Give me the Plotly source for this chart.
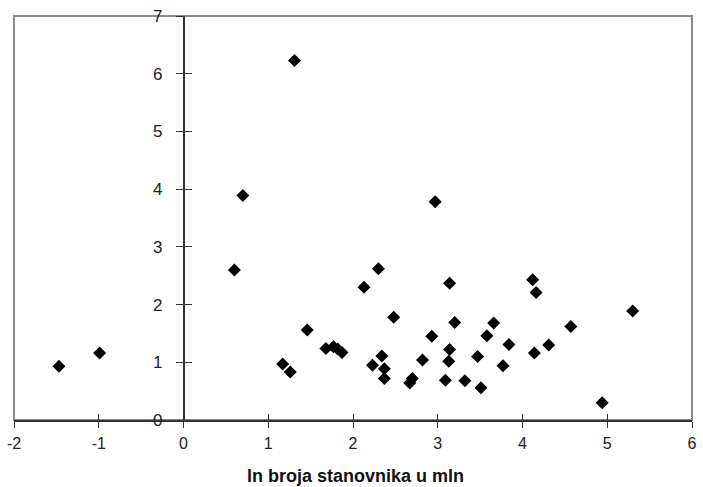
import plotly.graph_objects as go

x_vals = [-1.47, -0.99, 0.60, 0.70, 1.31, 1.17, 1.26, 1.46, 1.68, 1.77, 1.82, 1.87,
          2.13, 2.30, 2.48, 2.23, 2.34, 2.37, 2.37, 2.97, 3.14, 4.12, 4.16, 3.20,
          3.66, 2.93, 3.58, 3.84, 3.14, 3.13, 2.82, 3.47, 4.14, 3.77, 2.70, 2.67,
          3.09, 3.32, 3.51, 5.30, 4.57, 4.31, 4.94]
y_vals = [0.93, 1.16, 2.60, 3.89, 6.23, 0.97, 0.83, 1.56, 1.24, 1.27, 1.23, 1.17,
          2.30, 2.62, 1.78, 0.95, 1.11, 0.89, 0.72, 3.78, 2.37, 2.43, 2.21, 1.69,
          1.68, 1.45, 1.46, 1.31, 1.22, 1.02, 1.04, 1.10, 1.16, 0.94, 0.72, 0.64,
          0.69, 0.68, 0.56, 1.89, 1.62, 1.30, 0.30]

x_ticks = [-2, -1, 0, 1, 2, 3, 4, 5, 6]
x_tick_text = ["-2", "-1", "0", "1", "2", "3", "4", "5", "6"]
y_ticks = [0, 1, 2, 3, 4, 5, 6, 7]
x_title = "ln broja stanovnika u mln"

FONT = "Liberation Sans, Arial, sans-serif"
AX = "#333333"

fig = go.Figure()
fig.add_trace(go.Scatter(
    x=x_vals, y=y_vals, mode="markers",
    marker=dict(symbol="diamond", size=10, color="black", line=dict(width=0)),
    showlegend=False, hoverinfo="x+y"))
# invisible trace to host the overlay axes (inside tick halves)
fig.add_trace(go.Scatter(x=[x_ticks[0]], y=[y_ticks[0]], xaxis="x2", yaxis="y2",
                         mode="markers", marker=dict(opacity=0), showlegend=False,
                         hoverinfo="skip"))

common_x = dict(range=[-2, 6], tickvals=x_ticks, showgrid=False, zeroline=False,
                ticklen=6, tickwidth=1, tickcolor=AX)
common_y = dict(range=[0, 7], tickvals=y_ticks, showgrid=False, zeroline=False,
                ticklen=7, tickwidth=1, tickcolor=AX)

fig.update_layout(
    width=703, height=487,
    margin=dict(l=14, r=6, t=16, b=67),
    paper_bgcolor="white", plot_bgcolor="white",
    font=dict(family=FONT, size=16, color="#222222"),
    xaxis=dict(**common_x, ticktext=x_tick_text, showline=True, linecolor=AX,
               linewidth=1.5, ticks="outside", anchor="y",
               tickfont=dict(size=16, color="#222222"), ticklabelstandoff=2),
    yaxis=dict(**common_y, showline=True, linecolor=AX, linewidth=1.5,
               ticks="outside", anchor="free", position=0.25,
               tickfont=dict(size=17, color="#222222"), ticklabelstandoff=10),
    xaxis2=dict(**common_x, overlaying="x", anchor="y", ticks="inside",
                showticklabels=False, showline=False),
    yaxis2=dict(**common_y, overlaying="y", anchor="free", position=0.25,
                ticks="inside", showticklabels=False, showline=False),
    shapes=[dict(type="rect", xref="paper", yref="paper", x0=0, y0=0, x1=1, y1=1,
                 line=dict(color="#8a8a8a", width=2), layer="below")],
    annotations=[dict(text="<b>" + x_title + "</b>", xref="paper", yref="paper",
                      x=0.504, y=0, yshift=-56, xanchor="center", yanchor="middle",
                      showarrow=False, font=dict(family=FONT, size=18, color="#111111"))],
)

fig.write_html("out.html")
